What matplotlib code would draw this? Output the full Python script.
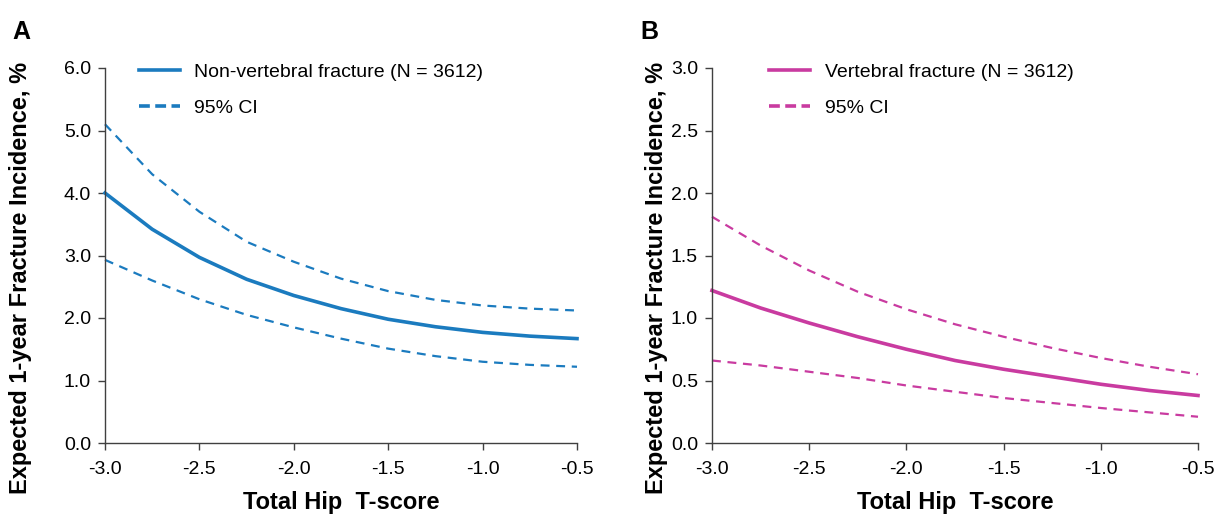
import matplotlib.pyplot as plt
import numpy as np

plt.rcParams['font.family'] = ['Liberation Sans', 'DejaVu Sans']

# T-score grid
tscore = [-3.0, -2.75, -2.5, -2.25, -2.0, -1.75, -1.5, -1.25, -1.0, -0.75, -0.5]

# panel A: non-vertebral fracture
nonvert = [4.0, 3.42, 2.97, 2.62, 2.36, 2.15, 1.98, 1.86, 1.77, 1.71, 1.67]
nonvert_hi = [5.1, 4.3, 3.7, 3.22, 2.9, 2.63, 2.43, 2.29, 2.2, 2.15, 2.12]
nonvert_lo = [2.93, 2.6, 2.3, 2.05, 1.85, 1.67, 1.51, 1.39, 1.3, 1.25, 1.22]

# panel B: vertebral fracture
vert = [1.22, 1.08, 0.96, 0.85, 0.75, 0.66, 0.59, 0.53, 0.47, 0.42, 0.38]
vert_hi = [1.81, 1.58, 1.38, 1.21, 1.07, 0.95, 0.85, 0.76, 0.68, 0.61, 0.55]
vert_lo = [0.66, 0.62, 0.57, 0.52, 0.46, 0.41, 0.36, 0.32, 0.28, 0.245, 0.21]

xticks = [-3.0, -2.5, -2.0, -1.5, -1.0, -0.5]

blue = '#1b7bbf'
pink = '#c93ba0'

fig = plt.figure(figsize=(12.16, 5.16), dpi=100)
axA = fig.add_axes([105/1216, 1 - 443/516, 472/1216, 375/516])
axB = fig.add_axes([712/1216, 1 - 443/516, 486/1216, 375/516])


def setup(ax, ymax, ystep, letter, lx, px):
    ax.set_xlim(-3.0, -0.5)
    ax.set_ylim(0, ymax)
    ax.set_xticks(xticks)
    ax.set_xticklabels(['%.1f' % t for t in xticks])
    yt = np.arange(0, ymax + 1e-9, ystep)
    ax.set_yticks(yt)
    ax.set_yticklabels(['%.1f' % v for v in yt])
    for s in ['top', 'right']:
        ax.spines[s].set_visible(False)
    for s in ['left', 'bottom']:
        ax.spines[s].set_color('#404040')
        ax.spines[s].set_linewidth(1.0)
    ax.tick_params(axis='both', labelsize=14, colors='#404040', labelcolor='black',
                   length=5, width=1.0, pad=5)
    ax.tick_params(axis='x', pad=8)
    ax.set_xlabel('Total Hip  T-score', fontsize=17, fontweight='bold', labelpad=9)
    ax.set_ylabel('Expected 1-year Fracture Incidence, %', fontsize=17, fontweight='bold')
    ax.yaxis.set_label_coords(lx, 0.44)
    ax.text(px, 1.095, letter, transform=ax.transAxes, fontsize=18,
            fontweight='bold', ha='left', va='center')


def add_legend(ax, x0):
    leg = ax.legend(frameon=False, loc='upper left', bbox_to_anchor=(x0, 1.06), fontsize=14,
                    handlelength=2.1, labelspacing=0.95, handletextpad=0.75)
    # the dashed legend key looks heavier than the curves in the original
    leg.get_lines()[1].set_linewidth(2.6)
    leg.get_lines()[1].set_linestyle((0, (3, 1.5)))


setup(axA, 6.0, 1.0, 'A', -0.155, -0.197)
axA.plot(tscore, nonvert, color=blue, lw=2.6, clip_on=False,
         label='Non-vertebral fracture (N = 3612)')
axA.plot(tscore, nonvert_hi, color=blue, lw=1.6, ls=(0, (4, 3)), clip_on=False, label='95% CI')
axA.plot(tscore, nonvert_lo, color=blue, lw=1.6, ls=(0, (4, 3)), clip_on=False)
add_legend(axA, 0.035)

setup(axB, 3.0, 0.5, 'B', -0.09, -0.148)
axB.plot(tscore, vert, color=pink, lw=2.6, clip_on=False,
         label='Vertebral fracture (N = 3612)')
axB.plot(tscore, vert_hi, color=pink, lw=1.6, ls=(0, (4, 3)), clip_on=False, label='95% CI')
axB.plot(tscore, vert_lo, color=pink, lw=1.6, ls=(0, (4, 3)), clip_on=False)
add_legend(axB, 0.082)

fig.savefig('out.png', dpi=100)
